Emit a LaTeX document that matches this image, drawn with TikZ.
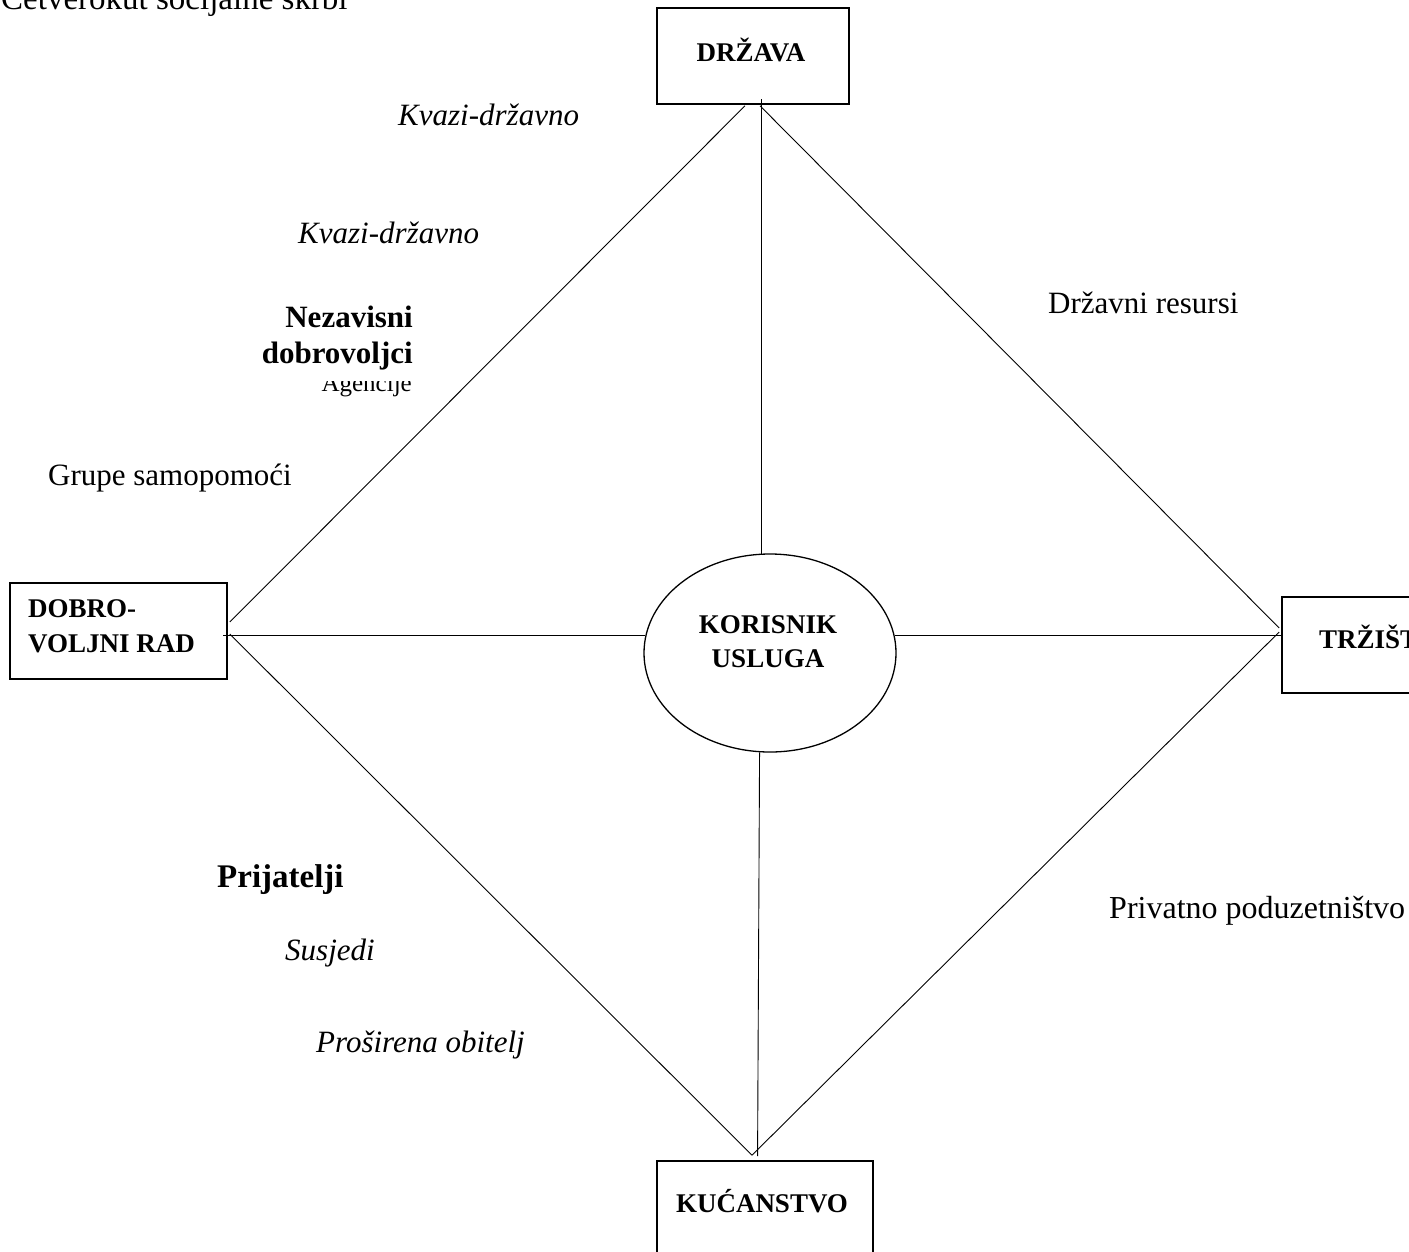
\documentclass[tikz,border=0pt]{standalone}
\usepackage{fontspec}
\setmainfont{Liberation Serif}
\usetikzlibrary{shapes.geometric,calc}
\begin{document}
\begin{tikzpicture}[x=1pt,y=-1pt,
  box/.style={draw, line width=1.6pt, rectangle, inner sep=0pt},
  hub/.style={draw, line width=1.3pt, ellipse, inner sep=0pt,
    minimum width=252pt, minimum height=198pt},
  boxlabel/.style={font=\fontsize{27}{35}\selectfont\bfseries, inner sep=0pt},
  plain/.style={font=\fontsize{31}{36}\selectfont, inner sep=0pt},
  ital/.style={font=\fontsize{31}{36}\selectfont\itshape, inner sep=0pt},
  heavy/.style={font=\fontsize{31}{36}\selectfont\bfseries, inner sep=0pt},
  link/.style={line width=0.9pt}]
\useasboundingbox (0,0) rectangle (1409,1251);

% title
\node[font=\fontsize{33}{38}\selectfont, inner sep=0pt, anchor=base west] (title) at (1,9) {Četverokut socijalne skrbi};

% the four sectors and the service user
\node[box, minimum width=192pt, minimum height=96pt] (drzava) at (753,56) {};
\node[box, minimum width=217pt, minimum height=96pt] (dobro) at (118.5,631) {};
\node[box, minimum width=217pt, minimum height=96pt] (trziste) at (1390.5,645) {};
\node[box, minimum width=216pt, minimum height=96pt] (kucanstvo) at (765,1209) {};
\node[hub] (user) at (770,653) {};

\node[boxlabel, anchor=base] (tDrzava) at (751,61) {DRŽAVA};
\node[boxlabel, anchor=base west] (tDobro1) at (28,617) {DOBRO-};
\node[boxlabel, anchor=base west] (tDobro2) at (28,652) {VOLJNI RAD};
\node[boxlabel, anchor=base west] (tTrziste) at (1319,648) {TRŽIŠTE};
\node[boxlabel, anchor=base] (tKucanstvo) at (762,1212) {KUĆANSTVO};
\node[boxlabel, anchor=base] (tUser1) at (768,633) {KORISNIK};
\node[boxlabel, anchor=base] (tUser2) at (768,667) {USLUGA};

% corner points of the quadrant
\coordinate (topL) at ($(drzava.south)+(-8,1)$);
\coordinate (topR) at ($(drzava.south)+(7,1)$);
\coordinate (leftU) at ($(dobro.east)+(2,-9)$);
\coordinate (leftD) at ($(dobro.east)+(2,3)$);
\coordinate (rightU) at ($(trziste.west)+(-2,-17)$);
\coordinate (rightD) at ($(trziste.west)+(-2,-13)$);
\coordinate (bottom) at ($(kucanstvo.north)+(-13,-5)$);

% diamond edges
\draw[link] (topL) -- (leftU);
\draw[link] (topR) -- (rightU);
\draw[link] (leftD) -- (bottom);
\draw[link] (rightD) -- (bottom);

% spokes to the service user
\draw[link] (user.95) -- ($(user.95 |- drzava.south)+(0,-6)$);
\draw[link] (user.172) -- ($(user.172 -| dobro.east)+(-5,0)$);
\draw[link] (user.8) -- (user.8 -| trziste.west);
\draw[link] (user.264) -- ($(user.264 |- kucanstvo.north)+(-2,-4)$);

% labels around the quadrant
\node[ital, anchor=base west] (kv1) at (398,125) {Kvazi-državno};
\node[ital, anchor=base west] (kv2) at (298,243) {Kvazi-državno};
\begin{scope}
  \clip (290,381) rectangle (430,400);
  \node[font=\fontsize{25}{30}\selectfont, inner sep=0pt, anchor=base east] (agencije) at (412,391) {Agencije};
\end{scope}
\node[heavy, anchor=base east] (nez1) at (413,327) {Nezavisni};
\node[heavy, anchor=base east] (nez2) at (413,363) {dobrovoljci};
\node[plain, anchor=base west] (grupe) at (48,485) {Grupe samopomoći};
\node[plain, anchor=base west] (drzres) at (1048,313) {Državni resursi};
\node[font=\fontsize{33}{38}\selectfont\bfseries, inner sep=0pt, anchor=base west] (prij) at (217,887) {Prijatelji};
\node[ital, anchor=base west] (susj) at (285,960) {Susjedi};
\node[ital, anchor=base west] (obit) at (316,1052) {Proširena obitelj};
\node[font=\fontsize{32}{36}\selectfont, inner sep=0pt, anchor=base west] (priv) at (1109,918) {Privatno poduzetništvo};
\end{tikzpicture}
\end{document}
